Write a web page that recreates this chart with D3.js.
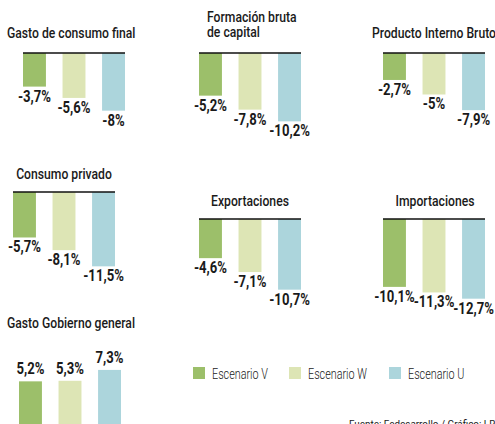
<!DOCTYPE html>
<html>
<head>
<meta charset="utf-8">
<script src="https://cdn.jsdelivr.net/npm/d3@7"></script>
<style>
  body { margin: 0; background: #fff; }
  text { font-family: Roboto, "DejaVu Sans Condensed", sans-serif; fill: #1a1a1a; }
</style>
</head>
<body>
<script>
// data
var scenarios = ["Escenario V", "Escenario W", "Escenario U"];
var panelTitles = [
  ["Gasto de consumo final"],
  ["Formación bruta", "de capital"],
  ["Producto Interno Bruto"],
  ["Consumo privado"],
  ["Exportaciones"],
  ["Importaciones"],
  ["Gasto Gobierno general"]
];
var valuesV = [-3.7, -5.2, -2.7, -5.7, -4.6, -10.1, 5.2];
var valuesW = [-5.6, -7.8, -5, -8.1, -7.1, -11.3, 5.3];
var valuesU = [-8, -10.2, -7.9, -11.5, -10.7, -12.7, 7.3];
var sourceText = "Fuente: Fedesarrollo / Gráfico: LR";

var colors = ["#9cbf6a", "#dde5b5", "#acd5dc"];

var svgWidth = 495, svgHeight = 424;

// where each little chart sits: x = left of first bar, y = zero line
var layout = [
  {x: 23,  y: 53,  tx: 7,   ty: 38,  anchor: "start",  line: true},
  {x: 199, y: 53,  tx: 207, ty: 22,  anchor: "start",  line: true},
  {x: 383, y: 53,  tx: 434, ty: 38,  anchor: "middle", line: true},
  {x: 13,  y: 192, tx: 64,  ty: 179, anchor: "middle", line: true},
  {x: 199, y: 219, tx: 250, ty: 206, anchor: "middle", line: true},
  {x: 383, y: 219, tx: 435, ty: 206, anchor: "middle", line: true},
  {x: 19,  y: 424, tx: 7,   ty: 328, anchor: "start",  line: false}
];
var panelWidth = 102;

var svg = d3.select("body").append("svg")
    .attr("width", svgWidth)
    .attr("height", svgHeight);

// one shared bar length scale (the original is not quite linear)
var lenScale = d3.scalePow().exponent(0.7)
    .domain([0, 13])
    .range([0, 81]);

var fmt = function(v) { return String(v).replace(".", ",") + "%"; };

// condensed look: squeeze text horizontally around its anchor
function condensed(parent, x, y, sx) {
  return parent.append("g")
    .attr("transform", "translate(" + x + "," + y + ") scale(" + sx + ",1)")
    .append("text");
}

panelTitles.forEach(function(title, i) {
  var L = layout[i];
  var vals = [valuesV[i], valuesW[i], valuesU[i]];
  var g = svg.append("g");

  var xScale = d3.scaleBand()
      .domain(scenarios)
      .range([L.x, L.x + panelWidth])
      .paddingInner(0.42)
      .paddingOuter(0);

  g.selectAll("rect")
    .data(vals)
    .enter()
    .append("rect")
    .attr("x", (d, j) => xScale(scenarios[j]))
    .attr("width", xScale.bandwidth())
    .attr("y", d => d < 0 ? L.y : L.y - lenScale(d))
    .attr("height", d => lenScale(Math.abs(d)))
    .attr("fill", (d, j) => colors[j]);

  if (L.line) {
    g.append("line")
      .attr("x1", L.x).attr("x2", L.x + panelWidth)
      .attr("y1", L.y).attr("y2", L.y)
      .attr("stroke", "#111")
      .attr("stroke-width", 1.5);
  }

  vals.forEach(function(d, j) {
    var cx = xScale(scenarios[j]) + xScale.bandwidth() / 2;
    var cy = d < 0 ? L.y + lenScale(-d) + 15 : L.y - lenScale(d) - 7;
    condensed(g, cx, cy, 0.82)
      .attr("text-anchor", "middle")
      .attr("font-size", 16)
      .attr("font-weight", 700)
      .text(fmt(d));
  });

  var t = condensed(g, L.tx, L.ty, 0.84)
    .attr("text-anchor", L.anchor)
    .attr("font-size", 14.5)
    .attr("font-weight", 500);
  title.forEach(function(line, k) {
    t.append("tspan")
      .attr("x", 0)
      .attr("dy", k === 0 ? 0 : 15)
      .text(line);
  });
});

// legend
var legendX = [193, 289, 389];
var legend = svg.selectAll("g.legend")
  .data(scenarios)
  .enter()
  .append("g")
  .attr("class", "legend")
  .attr("transform", (d, i) => "translate(" + legendX[i] + ",367)");
legend.append("rect")
  .attr("width", 12).attr("height", 12)
  .attr("fill", (d, i) => colors[i]);
legend.each(function(d) {
  condensed(d3.select(this), 19, 11.5, 0.72)
    .attr("font-size", 15)
    .attr("font-weight", 300)
    .text(d);
});

condensed(svg, 349, 428, 0.9)
  .attr("font-size", 11)
  .attr("fill", "#333")
  .text(sourceText);
</script>
</body>
</html>
